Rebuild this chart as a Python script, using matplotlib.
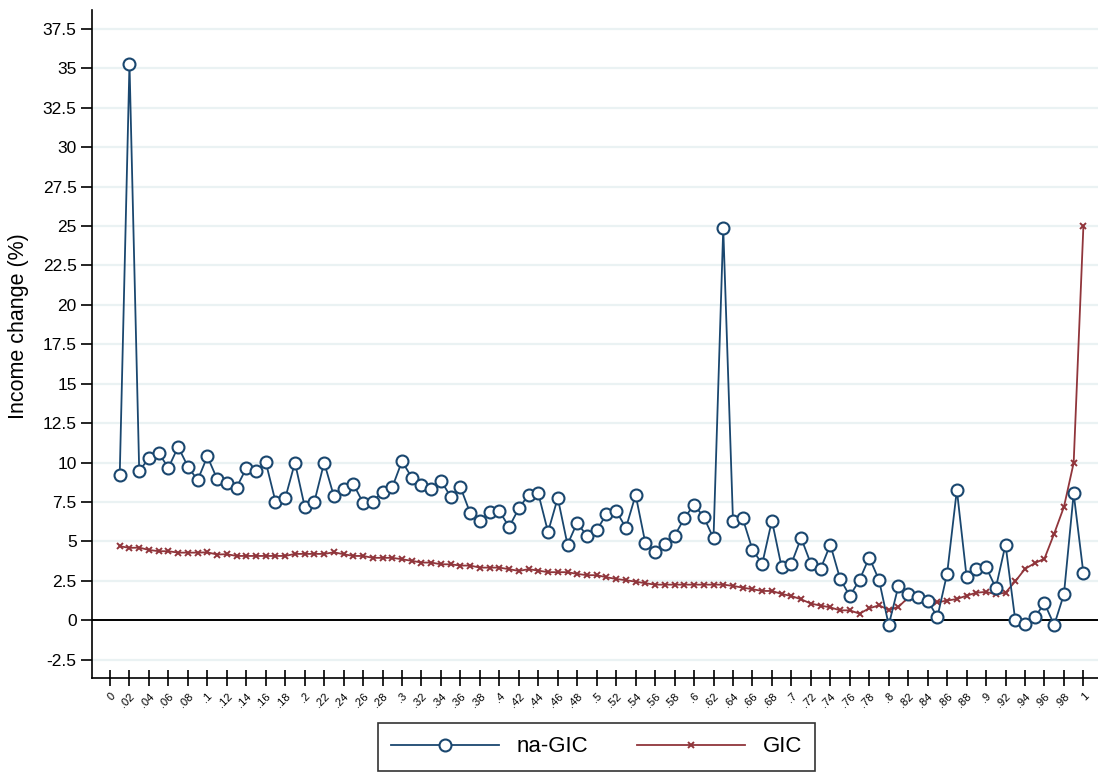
import numpy as np
import matplotlib
matplotlib.use("Agg")
import matplotlib.pyplot as plt
from matplotlib.ticker import FixedLocator, FuncFormatter

plt.rcParams['font.family'] = ['Liberation Sans', 'DejaVu Sans']

# percentiles 0.01 .. 1.00
percentiles = [round(0.01 * i, 2) for i in range(1, 101)]

na_gic = [
    9.24, 35.3, 9.47, 10.28, 10.6, 9.67, 11.0, 9.75, 8.88, 10.39,
    8.97, 8.73, 8.42, 9.64, 9.47, 10.03, 7.53, 7.74, 10.0, 7.21,
    7.53, 10.0, 7.87, 8.33, 8.65, 7.44, 7.53, 8.16, 8.44, 10.09,
    9.05, 8.55, 8.33, 8.86, 7.83, 8.44, 6.81, 6.32, 6.85, 6.92,
    5.92, 7.09, 7.97, 8.04, 5.60, 7.76, 4.80, 6.20, 5.33, 5.71,
    6.73, 6.94, 5.86, 7.95, 4.89, 4.30, 4.82, 5.35, 6.47, 7.34,
    6.54, 5.20, 24.87, 6.32, 6.46, 4.48, 3.57, 6.32, 3.36, 3.59,
    5.22, 3.59, 3.26, 4.80, 2.64, 1.54, 2.56, 3.98, 2.56, -0.30,
    2.18, 1.69, 1.46, 1.25, 0.21, 2.96, 8.27, 2.75, 3.26, 3.38,
    2.05, 4.80, 0.00, -0.21, 0.19, 1.08, -0.30, 1.65, 8.04, 2.98,
]

gic = [
    4.70, 4.59, 4.61, 4.46, 4.38, 4.38, 4.29, 4.29, 4.29, 4.31,
    4.17, 4.19, 4.08, 4.08, 4.08, 4.08, 4.08, 4.08, 4.21, 4.21,
    4.21, 4.21, 4.31, 4.19, 4.08, 4.08, 3.96, 3.96, 3.96, 3.87,
    3.77, 3.66, 3.66, 3.55, 3.55, 3.47, 3.47, 3.34, 3.34, 3.34,
    3.24, 3.13, 3.24, 3.15, 3.05, 3.05, 3.05, 2.94, 2.86, 2.86,
    2.73, 2.62, 2.54, 2.45, 2.35, 2.26, 2.26, 2.26, 2.26, 2.26,
    2.26, 2.26, 2.26, 2.18, 2.07, 1.97, 1.86, 1.86, 1.67, 1.54,
    1.33, 1.06, 0.93, 0.82, 0.63, 0.63, 0.42, 0.76, 0.95, 0.66,
    0.85, 1.44, 1.40, 1.31, 1.14, 1.25, 1.35, 1.56, 1.75, 1.80,
    1.65, 1.75, 2.47, 3.26, 3.62, 3.91, 5.50, 7.19, 9.98, 25.0,
]

x_ticks = [round(0.02 * k, 2) for k in range(0, 51)]
y_ticks = [-2.5 + 2.5 * k for k in range(0, 17)]

series_labels = ['na-GIC', 'GIC']

BLUE = '#1a476f'
RED = '#90353b'
GRID = '#eaf2f3'

fig = plt.figure(figsize=(10.98, 7.77), dpi=100)
ax = fig.add_axes([92 / 1098, 1 - 678 / 777, 1 - 92 / 1098, (678 - 10) / 777])

for yv in y_ticks:
    if yv != 0:
        ax.axhline(yv, color=GRID, lw=1.6, zorder=0)
ax.axhline(0, color='black', lw=1.4, zorder=1)

ax.plot(percentiles, na_gic, color=BLUE, lw=1.3, marker='o', markersize=8.6,
        markerfacecolor='white', markeredgecolor=BLUE, markeredgewidth=1.5,
        label=series_labels[0], zorder=3)
ax.plot(percentiles, gic, color=RED, lw=1.3, marker='x', markersize=5,
        markeredgewidth=1.4, label=series_labels[1], zorder=2)

ax.set_xlim(-0.0185, 1.015)
ax.set_ylim(-3.66, 38.7)

def fmt_x(v, pos=None):
    if abs(v) < 1e-9:
        return '0'
    if abs(v - 1) < 1e-9:
        return '1'
    s = f"{v:.2f}".rstrip('0')
    return s.lstrip('0')

def fmt_y(v, pos=None):
    return f"{v:g}"

ax.xaxis.set_major_locator(FixedLocator(x_ticks))
ax.xaxis.set_major_formatter(FuncFormatter(fmt_x))
ax.yaxis.set_major_locator(FixedLocator(y_ticks))
ax.yaxis.set_major_formatter(FuncFormatter(fmt_y))

for lab in ax.get_xticklabels():
    lab.set_rotation(45)
    lab.set_ha('right')
    lab.set_va('top')
    lab.set_rotation_mode('anchor')
    lab.set_fontsize(8)

ax.tick_params(axis='x', direction='inout', length=11, width=1.2, pad=4)
ax.tick_params(axis='y', direction='out', length=8, width=1.2, labelsize=12.5, pad=3)

for s in ['top', 'right']:
    ax.spines[s].set_visible(False)
for s in ['left', 'bottom']:
    ax.spines[s].set_linewidth(1.2)

ax.set_ylabel('Income change (%)', fontsize=15.5)
ax.yaxis.set_label_coords(-0.0626, 0.527)

leg = fig.legend(loc='upper center', bbox_to_anchor=(596.5 / 1098, 1 - 723 / 777),
                 ncol=2, fontsize=16, frameon=True, fancybox=False,
                 edgecolor='black', handlelength=4.86, handletextpad=0.81,
                 columnspacing=2.16, borderpad=0.6, borderaxespad=0)
leg.get_frame().set_linewidth(1.2)

fig.savefig('out.png', dpi=100)
